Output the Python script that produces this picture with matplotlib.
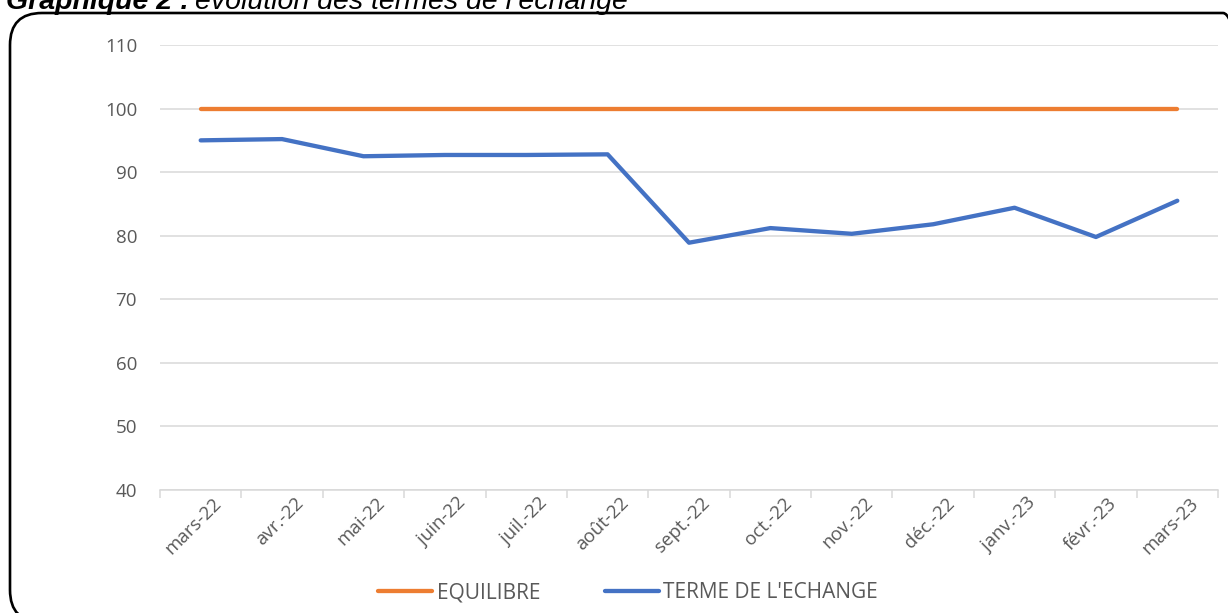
import matplotlib
matplotlib.use("Agg")
import matplotlib.pyplot as plt
from matplotlib.patches import FancyBboxPatch
import matplotlib.transforms as mtransforms

categories = ['mars-22', 'avr.-22', 'mai-22', 'juin-22', 'juil.-22', 'août-22', 'sept.-22',
              'oct.-22', 'nov.-22', 'déc.-22', 'janv.-23', 'févr.-23', 'mars-23']
equilibre = [100] * 13
terme = [95.0, 95.2, 92.5, 92.7, 92.7, 92.8, 78.9, 81.2, 80.3, 81.8, 84.4, 79.8, 85.5]

FONT = ['Open Sans', 'DejaVu Sans']
plt.rcParams['font.family'] = FONT

W, H = 1228, 613
fig = plt.figure(figsize=(W/100, H/100), dpi=100)
ax = fig.add_axes([160/W, 1-490/H, 1058/W, 445/H])

x = list(range(len(categories)))
l1, = ax.plot(x, equilibre, color='#ED7D31', lw=3.1, solid_capstyle='round', label='EQUILIBRE')
l2, = ax.plot(x, terme, color='#4472C4', lw=3.1, solid_capstyle='round', label="TERME DE L'ECHANGE")

ax.set_ylim(40, 110)
ax.set_xlim(-0.5, 12.5)
ax.set_yticks(range(40, 111, 10))
ax.grid(axis='y', color='#D9D9D9', lw=1.1)
ax.set_axisbelow(True)
for s in ['top', 'right', 'left']:
    ax.spines[s].set_visible(False)
ax.spines['bottom'].set_color('#D9D9D9')
ax.spines['bottom'].set_linewidth(1.1)
ax.tick_params(axis='y', length=0, labelsize=13.5, labelcolor='#595959', pad=16.5)

ax.set_xticks(x)
ax.set_xticklabels(categories, rotation=45, ha='right', rotation_mode='anchor',
                   fontsize=13.5, color='#595959')
ax.tick_params(axis='x', which='major', length=0, pad=3)
ax.set_xticks([i - 0.5 for i in range(14)], minor=True)
ax.tick_params(axis='x', which='minor', length=6, color='#D9D9D9', width=1.1)
offset = mtransforms.ScaledTranslation(12/100, 0, fig.dpi_scale_trans)
for lab in ax.get_xticklabels():
    lab.set_transform(lab.get_transform() + offset)

fig.legend(handles=[l1, l2], loc='center', bbox_to_anchor=(628/W, 1-593/H), ncol=2,
           frameon=False, fontsize=15, handlelength=2.6, handletextpad=0.2,
           columnspacing=3.1, labelcolor='#595959')

# rounded border, in pixel coordinates
box = FancyBboxPatch((10, H - 622), 1245, 609, boxstyle='round,pad=0,rounding_size=32',
                     transform=mtransforms.IdentityTransform(), fill=False, ec='black', lw=1.9)
fig.patches.append(box)

TF = ['Liberation Sans', 'DejaVu Sans']
t1 = fig.text(6/W, 1 - 9/H, 'Graphique 2 :', fontsize=20.5, fontweight='bold',
              fontstyle='italic', va='baseline', ha='left', family=TF)
fig.canvas.draw()
bb = t1.get_window_extent()
fig.text((bb.x1 + 6)/W, 1 - 9/H, 'évolution des termes de l’échange', fontsize=20.5,
         fontstyle='italic', va='baseline', ha='left', family=TF)

fig.savefig('out.png', dpi=100)
